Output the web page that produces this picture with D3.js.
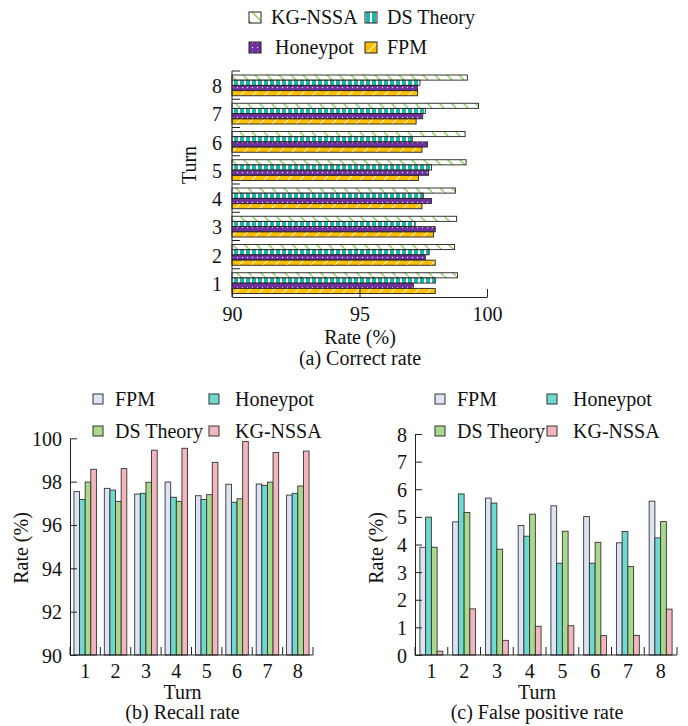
<!DOCTYPE html>
<html>
<head>
<meta charset="utf-8">
<script src="https://cdn.jsdelivr.net/npm/d3@7"></script>
<style>
  body { margin: 0; background: #fff; }
  svg text { font-family: "Liberation Serif", "Times New Roman", serif; font-size: 20px; fill: #111; }
  .domain, .tick line { stroke: #222; }
</style>
</head>
<body>
<svg width="688" height="726"></svg>
<script>
const turns = ["1", "2", "3", "4", "5", "6", "7", "8"];
const methods = ["FPM", "Honeypot", "DS Theory", "KG-NSSA"];

// (a) correct rate
const correctFPM = [97.97, 97.97, 97.9, 97.45, 97.31, 97.45, 97.22, 97.28];
const correctHoneypot = [97.11, 97.58, 97.97, 97.82, 97.71, 97.67, 97.48, 97.28];
const correctDS = [97.97, 97.73, 97.18, 97.5, 97.82, 97.07, 97.58, 97.37];
const correctKG = [98.84, 98.73, 98.81, 98.76, 99.18, 99.14, 99.67, 99.23];
const correctTicks = [90, 95, 100];

// (b) recall rate
const recallFPM = [97.54, 97.69, 97.43, 97.98, 97.35, 97.88, 97.89, 97.38];
const recallHoneypot = [97.18, 97.61, 97.46, 97.28, 97.18, 97.05, 97.83, 97.46];
const recallDS = [97.98, 97.09, 97.97, 97.09, 97.4, 97.21, 97.98, 97.8];
const recallKG = [98.57, 98.6, 99.45, 99.54, 98.89, 99.85, 99.35, 99.41];
const recallTicks = [90, 92, 94, 96, 98, 100];

// (c) false positive rate
const fpFPM = [3.9, 4.82, 5.68, 4.69, 5.4, 5.01, 4.06, 5.57];
const fpHoneypot = [4.99, 5.83, 5.5, 4.3, 3.32, 3.32, 4.47, 4.24];
const fpDS = [3.9, 5.16, 3.83, 5.1, 4.48, 4.08, 3.2, 4.83];
const fpKG = [0.14, 1.67, 0.53, 1.04, 1.06, 0.7, 0.71, 1.66];
const fpTicks = [0, 1, 2, 3, 4, 5, 6, 7, 8];

const svg = d3.select("svg");
const defs = svg.append("defs");

// patterns for the top chart
function pattern(id, bg, w, h) {
  const p = defs.append("pattern").attr("id", id)
    .attr("patternUnits", "userSpaceOnUse").attr("width", w).attr("height", h);
  p.append("rect").attr("width", w).attr("height", h).attr("fill", bg);
  return p;
}
pattern("pKG", "#fff", 12, 12)
  .append("line").attr("x1", 0).attr("y1", 0).attr("x2", 12).attr("y2", 12)
  .attr("stroke", "#8fce5c").attr("stroke-width", 1.4);
pattern("pDS", "#fff", 6, 6)
  .append("rect").attr("width", 4).attr("height", 6).attr("fill", "#1fb5a8");
pattern("pHP", "#7030a0", 5, 5)
  .append("circle").attr("cx", 2.5).attr("cy", 2.5).attr("r", 0.7).attr("fill", "#e8dcf2");
pattern("pFPM", "#ffbf00", 12, 12)
  .append("line").attr("x1", 0).attr("y1", 12).attr("x2", 12).attr("y2", 0)
  .attr("stroke", "#fff6d8").attr("stroke-width", 1.1);

const topFill = { "KG-NSSA": "url(#pKG)", "DS Theory": "url(#pDS)", Honeypot: "url(#pHP)", FPM: "url(#pFPM)" };
const flatFill = { FPM: "#dbe3f5", Honeypot: "#6fd9cf", "DS Theory": "#a9d98b", "KG-NSSA": "#f4b6be" };

// ---------- (a) Correct rate, horizontal ----------
const topOrder = ["KG-NSSA", "DS Theory", "Honeypot", "FPM"];
const correct = { FPM: correctFPM, Honeypot: correctHoneypot, "DS Theory": correctDS, "KG-NSSA": correctKG };

const xA = d3.scaleLinear().domain([90, 100]).range([232, 487]);
const yA = d3.scaleBand().domain(turns.slice().reverse()).range([71, 297]);
const yAin = d3.scaleBand().domain(topOrder).range([4, yA.bandwidth() - 3.5]).paddingInner(0.02);

const gA = svg.append("g");
turns.forEach((t, i) => {
  gA.selectAll(null)
    .data(topOrder)
    .join("rect")
    .attr("x", xA(90))
    .attr("y", (m) => yA(t) + yAin(m))
    .attr("height", yAin.bandwidth())
    .attr("width", (m) => xA(correct[m][i]) - xA(90))
    .attr("fill", (m) => topFill[m])
    .attr("stroke", "#222")
    .attr("stroke-width", 0.9);
});

// left axis with boundary ticks
gA.append("line").attr("x1", 232).attr("x2", 232).attr("y1", 71).attr("y2", 297).attr("stroke", "#222");
gA.selectAll(".bt")
  .data(turns)
  .join("line")
  .attr("x1", 232).attr("x2", 240)
  .attr("y1", (t) => yA(t)).attr("y2", (t) => yA(t))
  .attr("stroke", "#222");
gA.selectAll(".yl")
  .data(turns)
  .join("text")
  .attr("x", 222)
  .attr("y", (t) => yA(t) + yA.bandwidth() / 2 + 8)
  .attr("text-anchor", "end")
  .text((t) => t);

gA.append("g")
  .attr("transform", "translate(0,297)")
  .call(d3.axisBottom(xA).tickValues(correctTicks).tickSize(-8).tickSizeOuter(0).tickPadding(10))
  .call((g) => g.selectAll("text").style("font-size", "20px").attr("font-family", null));

gA.append("text").attr("x", 360).attr("y", 344).attr("text-anchor", "middle").text("Rate (%)");
gA.append("text").attr("x", 360).attr("y", 365).attr("text-anchor", "middle").text("(a) Correct rate");
gA.append("text").attr("transform", "translate(196,165) rotate(-90)").attr("text-anchor", "middle").text("Turn");

// top legend
const legA = [
  { m: "KG-NSSA", x: 249, y: 12 }, { m: "DS Theory", x: 365, y: 12 },
  { m: "Honeypot", x: 249, y: 42 }, { m: "FPM", x: 365, y: 42 },
];
gA.selectAll(".lg")
  .data(legA)
  .join("rect")
  .attr("x", (d) => d.x).attr("y", (d) => d.y)
  .attr("width", 12).attr("height", 11)
  .attr("fill", (d) => topFill[d.m])
  .attr("stroke", "#222");
gA.selectAll(".lt")
  .data(legA)
  .join("text")
  .attr("x", (d) => d.x + (d.m === "Honeypot" ? 26 : 22))
  .attr("y", (d) => d.y + 12)
  .text((d) => d.m);

// ---------- vertical grouped bar charts ----------
function groupChart(opt) {
  const g = svg.append("g");
  const x = d3.scaleBand().domain(turns).range([opt.x0, opt.x1]);
  const pad = x.bandwidth() * opt.pad;
  const xin = d3.scaleBand().domain(methods).range([pad, x.bandwidth() - pad]);
  const y = d3.scaleLinear().domain(opt.domain).range([655, opt.yTop]);

  turns.forEach((t, i) => {
    g.selectAll(null)
      .data(methods)
      .join("rect")
      .attr("x", (m) => x(t) + xin(m))
      .attr("width", xin.bandwidth())
      .attr("y", (m) => y(opt.values[m][i]))
      .attr("height", (m) => y(opt.domain[0]) - y(opt.values[m][i]))
      .attr("fill", (m) => flatFill[m])
      .attr("stroke", "#333")
      .attr("stroke-width", 0.9);
  });

  g.append("g")
    .attr("transform", `translate(${opt.x0},0)`)
    .call(d3.axisLeft(y).tickValues(opt.ticks).tickSize(-7).tickSizeOuter(0).tickPadding(8))
    .call((a) => a.selectAll("text").style("font-size", "20px").attr("font-family", null).attr("dy", "0.35em"));

  // bottom axis with group boundary ticks
  g.append("line").attr("x1", opt.x0).attr("x2", opt.x1).attr("y1", 655).attr("y2", 655).attr("stroke", "#222");
  g.selectAll(".bt")
    .data(turns.concat(["end"]))
    .join("line")
    .attr("x1", (t) => (t === "end" ? opt.x1 : x(t)))
    .attr("x2", (t) => (t === "end" ? opt.x1 : x(t)))
    .attr("y1", 647).attr("y2", 655)
    .attr("stroke", "#222");
  g.selectAll(".xl")
    .data(turns)
    .join("text")
    .attr("x", (t) => x(t) + x.bandwidth() / 2)
    .attr("y", 678)
    .attr("text-anchor", "middle")
    .text((t) => t);

  const cx = (opt.x0 + opt.x1) / 2 - 9;
  g.append("text").attr("x", cx).attr("y", 699).attr("text-anchor", "middle").text("Turn");
  g.append("text").attr("x", cx).attr("y", 719).attr("text-anchor", "middle").text(opt.title);
  g.append("text").attr("transform", `translate(${opt.yLabelX},548) rotate(-90)`).attr("text-anchor", "middle").text("Rate (%)");

  const leg = [
    { m: "FPM", x: opt.legX[0], y: 394 }, { m: "Honeypot", x: opt.legX[1], y: 394 },
    { m: "DS Theory", x: opt.legX[0], y: 426 }, { m: "KG-NSSA", x: opt.legX[1], y: 426 },
  ];
  g.selectAll(".lg")
    .data(leg)
    .join("rect")
    .attr("x", (d) => d.x).attr("y", (d) => d.y)
    .attr("width", 10).attr("height", 10)
    .attr("fill", (d) => flatFill[d.m])
    .attr("stroke", "#333");
  g.selectAll(".lt")
    .data(leg)
    .join("text")
    .attr("x", (d) => d.x + (d.m === "Honeypot" || d.m === "KG-NSSA" ? 26 : 22))
    .attr("y", (d) => d.y + 12)
    .text((d) => d.m);
}

groupChart({
  x0: 70, x1: 313, yTop: 438.3, domain: [90, 100], ticks: recallTicks, pad: 0.13,
  values: { FPM: recallFPM, Honeypot: recallHoneypot, "DS Theory": recallDS, "KG-NSSA": recallKG },
  title: "(b) Recall rate", yLabelX: 28, legX: [93, 209],
});

groupChart({
  x0: 415, x1: 677, yTop: 434, domain: [0, 8], ticks: fpTicks, pad: 0.15,
  values: { FPM: fpFPM, Honeypot: fpHoneypot, "DS Theory": fpDS, "KG-NSSA": fpKG },
  title: "(c) False positive rate", yLabelX: 383, legX: [435, 547],
});
</script>
</body>
</html>
